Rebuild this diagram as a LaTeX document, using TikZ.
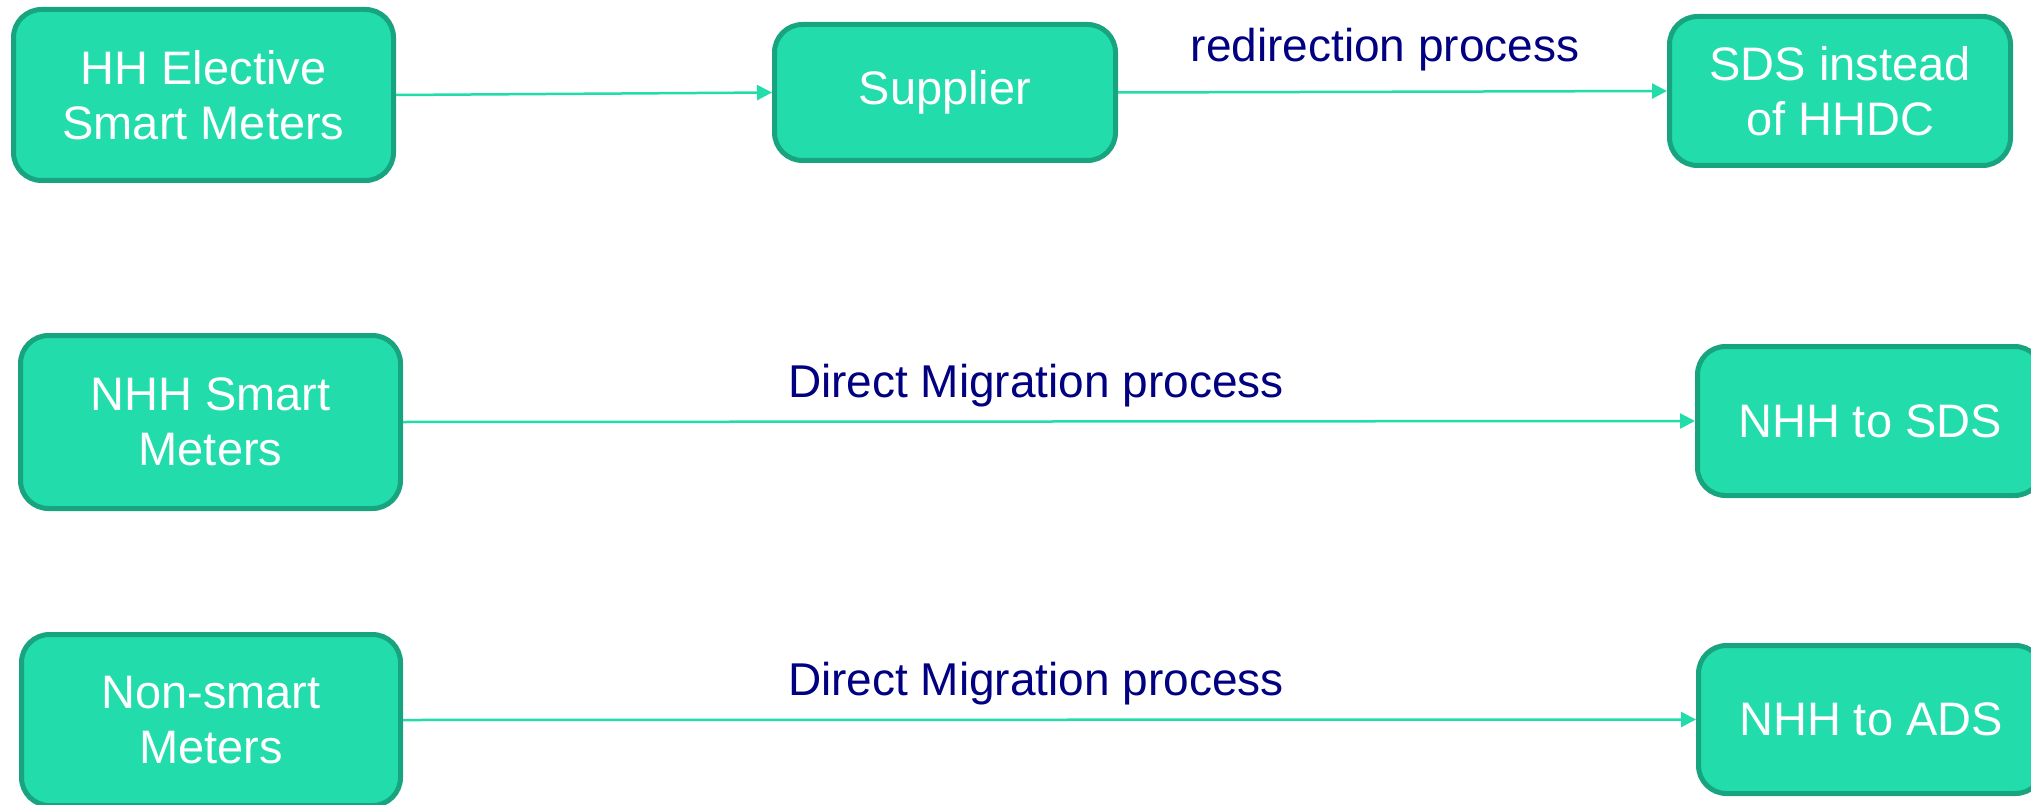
\documentclass[tikz,border=0pt]{standalone}
\usepackage{fontspec}
\setmainfont{Liberation Sans}
\usetikzlibrary{arrows.meta}
\definecolor{boxfill}{HTML}{23DCAC}
\definecolor{boxedge}{HTML}{18A47E}
\definecolor{arrowc}{HTML}{22DDAA}
\definecolor{labelc}{HTML}{000080}
\tikzset{
  mbox/.style={draw=boxedge, line width=5pt, fill=boxfill, rounded corners=28pt,
    text=white, align=center, inner sep=0pt,
    font=\fontsize{47pt}{55pt}\selectfont},
  flow/.style={draw=arrowc, line width=2.5pt, -{Triangle[length=15pt,width=15pt]}},
  lbl/.style={text=labelc, anchor=base, inner sep=0pt, font=\fontsize{46pt}{54pt}\selectfont}
}
\begin{document}
\begin{tikzpicture}[x=1pt,y=-1pt]
\useasboundingbox (0,0) rectangle (2031,805);
\clip (0,0) rectangle (2031,805);
\node[mbox, minimum width=380pt, minimum height=171pt] (hh) at (203.5,95) {HH Elective\\Smart Meters};
\node[mbox, minimum width=341pt, minimum height=136pt] (sup) at (945,92.5) {Supplier};
\node[mbox, minimum width=341pt, minimum height=149pt] (sds) at (1840,91) {SDS instead\\of HHDC};
\node[mbox, minimum width=380pt, minimum height=173pt] (nhh) at (210.5,422) {NHH Smart\\Meters};
\node[mbox, minimum width=345pt, minimum height=149pt] (nsds) at (1870,421) {NHH to SDS};
\node[mbox, minimum width=379pt, minimum height=171pt] (non) at (211,720) {Non-smart\\Meters};
\node[mbox, minimum width=345pt, minimum height=148pt] (nads) at (1871,719.5) {NHH to ADS};
\draw[flow] (hh.east) -- (sup.west);
\draw[flow] (sup.east) -- (sds.west);
\draw[flow] (nhh.east) -- (nsds.west);
\draw[flow] (non.east) -- (nads.west);
\node[lbl] (l1) at (1385,62) {redirection process};
\node[lbl] (l2) at (1036,397) {Direct Migration process};
\node[lbl] (l3) at (1036,695) {Direct Migration process};
\end{tikzpicture}
\end{document}
